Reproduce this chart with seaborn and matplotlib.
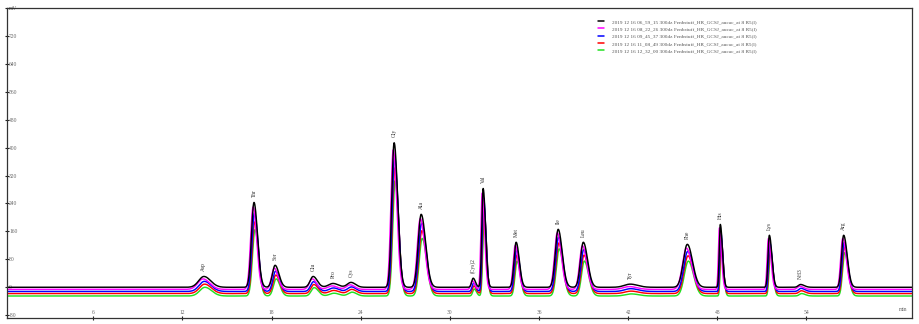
import numpy as np
import pandas as pd
import matplotlib
matplotlib.use("Agg")
import matplotlib.pyplot as plt
from matplotlib.lines import Line2D
import seaborn as sns

# ---------------- data ----------------
peak_names = ["Asp", "Thr", "Ser", "Glu", "Pro", "Cys", "Gly", "Ala", "(Cys)2", "Val",
              "Met", "Ile", "Leu", "Tyr", "Phe", "His", "Lys", "NH3", "Arg"]
peak_times = [13.45, 16.82, 18.24, 20.80, 22.14, 23.35, 26.25, 28.07, 31.57, 32.24,
              34.46, 37.29, 38.98, 42.14, 45.98, 48.20, 51.50, 53.60, 56.50]
sigma_left = [0.35, 0.17, 0.18, 0.20, 0.30, 0.25, 0.16, 0.20, 0.10, 0.09,
              0.14, 0.19, 0.19, 0.40, 0.27, 0.07, 0.09, 0.15, 0.14]
sigma_right = [0.45, 0.24, 0.26, 0.28, 0.35, 0.30, 0.24, 0.30, 0.15, 0.16,
               0.21, 0.27, 0.29, 0.50, 0.35, 0.14, 0.17, 0.25, 0.24]

series_names = [
    "2019 12 16 06_59_15 300dz Fenbstuff_HR_GCSJ_aucac_at 8 R5(l)",
    "2019 12 16 08_22_26 300dz Fenbstuff_HR_GCSJ_aucac_at 8 R5(l)",
    "2019 12 16 09_45_37 300dz Fenbstuff_HR_GCSJ_aucac_at 8 R5(l)",
    "2019 12 16 11_08_49 300dz Fenbstuff_HR_GCSJ_aucac_at 8 R5(l)",
    "2019 12 16 12_32_00 300dz Fenbstuff_HR_GCSJ_aucac_at 8 R5(l)",
]
series_colors = ["#000000", "#ff00ff", "#0000ff", "#ff0000", "#22e022"]
series_baseline = [0, -6, -12, -18, -25]
series_shift = [0.0, -0.06, 0.03, 0.05, 0.07]
heights_s1 = [31, 243, 63, 31, 11, 14, 414, 209, 26, 283, 129, 166, 129, 9, 123, 180, 149, 8, 149]
heights_s2 = [30, 236, 61, 30, 10, 13, 400, 203, 25, 276, 126, 162, 125, 8, 118, 176, 146, 9, 146]
heights_s3 = [29, 225, 58, 28, 10, 13, 385, 195, 24, 268, 120, 156, 120, 8, 115, 170, 140, 9, 140]
heights_s4 = [27, 205, 53, 26, 9, 12, 360, 180, 22, 250, 110, 145, 110, 7, 108, 160, 132, 8, 132]
heights_s5 = [25, 190, 49, 24, 8, 11, 330, 165, 20, 232, 100, 135, 100, 6, 100, 150, 124, 7, 124]
series_heights = [heights_s1, heights_s2, heights_s3, heights_s4, heights_s5]

y_ticks = [-80, 0, 80, 160, 240, 320, 400, 480, 560, 640, 720]
x_ticks = [6, 12, 18, 24, 30, 36, 42, 48, 54]

# ---------------- build signals ----------------
t = np.arange(0.2, 61.15, 0.01)
frames = []
for name, base, shift, hts in zip(series_names, series_baseline, series_shift, series_heights):
    y = np.full_like(t, float(base))
    for tp, h, sl, sr in zip(peak_times, hts, sigma_left, sigma_right):
        c = tp + shift
        s = np.where(t < c, sl, sr)
        y += h * np.exp(-0.5 * ((t - c) / s) ** 2)
    frames.append(pd.DataFrame({"time": t, "mV": y, "series": name}))
df = pd.concat(frames, ignore_index=True)

# ---------------- plot ----------------
sns.set_theme(style="white")
plt.rcParams["font.family"] = ["Liberation Serif", "DejaVu Serif"]

fig = plt.figure(figsize=(9.19, 3.24), dpi=100)
ax = fig.add_axes([7 / 919, 1 - 318 / 324, (912 - 7) / 919, (318 - 8) / 324])

draw_order = list(reversed(series_names))
palette = dict(zip(series_names, series_colors))
sns.lineplot(data=df, x="time", y="mV", hue="series", hue_order=draw_order,
             palette=palette, estimator=None, sort=False, linewidth=1.05,
             legend=False, ax=ax)

ax.set_xlim(0.2, 61.1)
ax.set_ylim(-88, 800)
ax.set_xlabel("")
ax.set_ylabel("")

for sp in ax.spines.values():
    sp.set_color("#333333")
    sp.set_linewidth(0.9)

ax.set_yticks(y_ticks + [800])
ax.set_yticklabels([str(v) for v in y_ticks] + ["mV"])
ax.set_xticks(x_ticks)
ax.set_xticklabels([str(v) for v in x_ticks])
ax.tick_params(axis="y", direction="inout", length=3, width=0.8, color="#222222",
               pad=-3, labelsize=4.0, labelcolor="#666666", left=True)
ax.tick_params(axis="x", direction="inout", length=3, width=0.8, color="#222222",
               pad=-4, labelsize=4.0, labelcolor="#666666", bottom=True)
for lab in ax.get_yticklabels():
    lab.set_horizontalalignment("left")
for lab in ax.get_xticklabels():
    lab.set_verticalalignment("bottom")
ax.text(0.995, 0.02, "min", transform=ax.transAxes, ha="right", va="bottom",
        fontsize=4.0, color="#666666")

# peak labels (above black trace)
for name, tp, h in zip(peak_names, peak_times, heights_s1):
    ax.annotate(name, xy=(tp, h + series_baseline[0]), xytext=(0, 4),
                textcoords="offset points", rotation=90, ha="center", va="bottom",
                fontsize=4.0, color="#333333")

handles = [Line2D([0], [0], color=c, lw=1.1) for c in series_colors]
fig.legend(handles, series_names, loc="upper left",
           bbox_to_anchor=(598 / 919, 1 - 19 / 324), frameon=False,
           fontsize=3.8, handlelength=1.2, handletextpad=1.5,
           labelspacing=0.5, borderaxespad=0, borderpad=0, labelcolor="#555555")

fig.savefig("out.png", dpi=100)
